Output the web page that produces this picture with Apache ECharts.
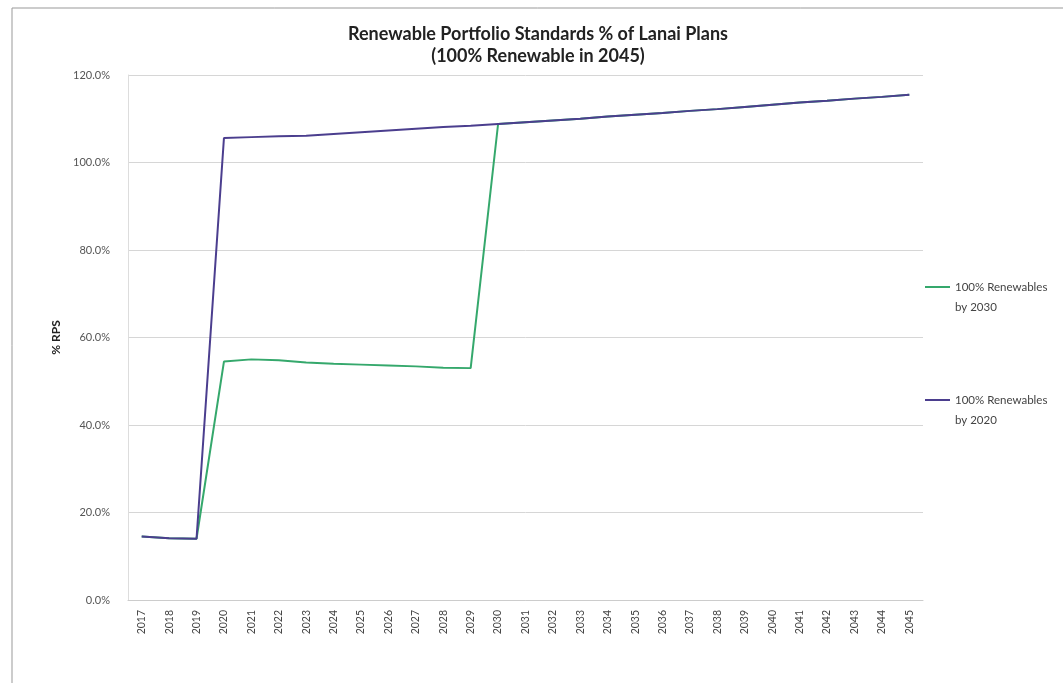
<!DOCTYPE html>
<html>
<head>
<meta charset="utf-8">
<script src="https://cdn.jsdelivr.net/npm/echarts@6/dist/echarts.min.js"></script>
<style>
  html, body { margin: 0; padding: 0; background: #fff; }
  #echart { width: 1063px; height: 683px; }
</style>
</head>
<body>
<div id="echart"></div>
<script>
var years = ['2017','2018','2019','2020','2021','2022','2023','2024','2025','2026',
  '2027','2028','2029','2030','2031','2032','2033','2034','2035','2036','2037',
  '2038','2039','2040','2041','2042','2043','2044','2045'];

// 100% Renewables by 2030
var rps2030 = [14.5, 14.1, 14.0, 54.5, 55.0, 54.8, 54.3, 54.0, 53.8, 53.6, 53.4, 53.1, 53.0,
  108.8, 109.2, 109.6, 110.0, 110.5, 110.9, 111.3, 111.8, 112.2, 112.7, 113.2, 113.7, 114.1, 114.6, 115.0, 115.5];

// 100% Renewables by 2020
var rps2020 = [14.5, 14.1, 14.0, 105.6, 105.8, 106.0, 106.1, 106.5, 106.9, 107.3, 107.7, 108.1, 108.4,
  108.8, 109.2, 109.6, 110.0, 110.5, 110.9, 111.3, 111.8, 112.2, 112.7, 113.2, 113.7, 114.1, 114.6, 115.0, 115.5];

var myChart = echarts.init(document.getElementById('echart'));

var option = {
    backgroundColor: '#fff',
    animation: false,
    title: {
        text: 'Renewable Portfolio Standards % of Lanai Plans\n(100% Renewable in 2045)',
        left: 533,
        textAlign: 'center',
        top: 18,
        textStyle: {
            fontFamily: 'Lato',
            fontSize: 18,
            fontWeight: 'bold',
            color: '#222',
            lineHeight: 22
        }
    },
    graphic: [{
        type: 'polyline',
        shape: { points: [[12, 683], [12, 8], [1063, 8]] },
        style: { stroke: '#999', fill: null, lineWidth: 1 }
    }],
    legend: {
        orient: 'vertical',
        left: 925,
        top: 257,
        padding: 0,
        itemGap: 53,
        itemWidth: 25,
        itemHeight: 2,
        icon: 'rect',
        data: ['100% Renewables\nby 2030', '100% Renewables\nby 2020'],
        formatter: function (name) { return ' \n' + name; },
        textStyle: {
            fontFamily: 'Lato',
            fontSize: 11.5,
            color: '#444',
            lineHeight: 20
        }
    },
    grid: {
        left: 128,
        right: 140,
        top: 75,
        bottom: 83
    },
    xAxis: {
        type: 'category',
        data: years,
        boundaryGap: true,
        axisLine: { lineStyle: { color: '#ccc' } },
        axisTick: { show: false },
        axisLabel: {
            rotate: 90,
            interval: 0,
            fontFamily: 'Lato',
            fontSize: 10.5,
            color: '#444',
            margin: 10
        }
    },
    yAxis: {
        type: 'value',
        min: 0,
        max: 120,
        interval: 20,
        name: '% RPS',
        nameLocation: 'middle',
        nameGap: 60,
        nameRotate: 90,
        nameTextStyle: {
            fontFamily: 'Lato',
            fontSize: 12,
            fontWeight: 'bold',
            color: '#222'
        },
        axisLine: { show: true, lineStyle: { color: '#ddd' } },
        axisTick: { show: false },
        splitLine: { lineStyle: { color: '#d6d6d6' } },
        axisLabel: {
            formatter: function (v) { return v.toFixed(1) + '%'; },
            fontFamily: 'Lato',
            fontSize: 11,
            color: '#555',
            margin: 18
        }
    },
    series: [
        {
            name: '100% Renewables\nby 2030',
            type: 'line',
            data: rps2030,
            symbol: 'none',
            lineStyle: { color: '#35a86c', width: 2 },
            itemStyle: { color: '#35a86c' }
        },
        {
            name: '100% Renewables\nby 2020',
            type: 'line',
            data: rps2020,
            symbol: 'none',
            lineStyle: { color: '#4b3e8e', width: 2 },
            itemStyle: { color: '#4b3e8e' }
        }
    ]
};

myChart.setOption(option);
</script>
</body>
</html>
